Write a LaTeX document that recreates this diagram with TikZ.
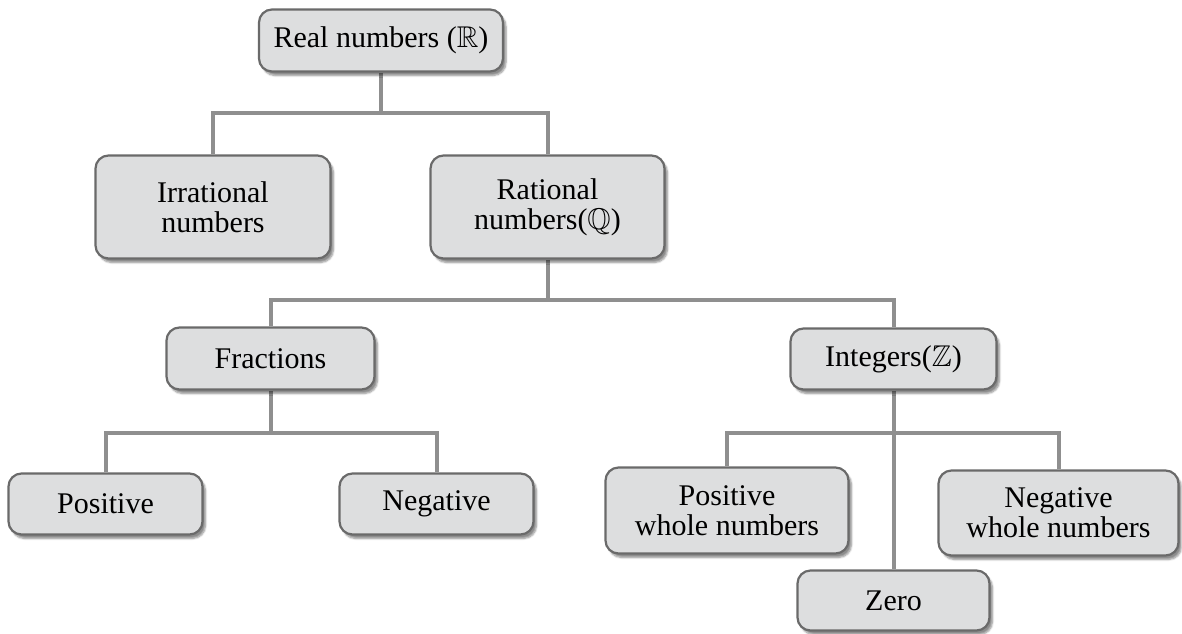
\documentclass[tikz,border=0pt]{standalone}
\usepackage{amssymb}
\usepackage{fontspec}
\setmainfont{Liberation Serif}
\usetikzlibrary{shadows.blur,backgrounds}
\definecolor{boxfill}{HTML}{DDDEDF}
\definecolor{boxdraw}{HTML}{6A6A6A}
\definecolor{linecol}{HTML}{8F8F8F}
\tikzset{
  box/.style={draw=boxdraw, line width=2.2pt, fill=boxfill, rounded corners=13pt,
    align=center, inner sep=0pt,
    font=\fontsize{30}{30}\selectfont,
    blur shadow={shadow xshift=3pt, shadow yshift=-4pt, shadow blur steps=6, shadow opacity=45}},
  conn/.style={draw=linecol, line width=4pt}
}
\begin{document}
\begin{tikzpicture}[x=1pt,y=-1pt]
\useasboundingbox (0,0) rectangle (1182,633);
\node[box, minimum width=244pt, minimum height=62pt] (real) at (381,40.5) {Real numbers ($\mathbb{R}$)};
\node[box, minimum width=235pt, minimum height=103pt] (irr) at (213,207) {Irrational\\numbers};
\node[box, minimum width=234pt, minimum height=103pt] (rat) at (547.5,207) {Rational\\numbers($\mathbb{Q}$)};
\node[box, minimum width=208pt, minimum height=62pt] (frac) at (270.5,358.5) {Fractions};
\node[box, minimum width=206pt, minimum height=61pt] (int) at (893.5,359) {Integers($\mathbb{Z}$)};
\node[box, minimum width=194pt, minimum height=61pt] (pos) at (105.5,504) {Positive};
\node[box, minimum width=194pt, minimum height=61pt] (neg) at (436.5,504) {Negative};
\node[box, minimum width=243pt, minimum height=86pt] (pwn) at (727,510.5) {Positive\\whole numbers};
\node[box, minimum width=240pt, minimum height=85pt] (nwn) at (1058.5,513) {Negative\\whole numbers};
\node[box, minimum width=192pt, minimum height=60pt] (zero) at (893.5,600.5) {Zero};
\coordinate (j1) at (381,113);
\coordinate (j2) at (547.5,300);
\coordinate (j3) at (270.5,433);
\coordinate (j4) at (893.5,433);
\begin{scope}[on background layer]
\draw[conn] (real.south) -- (j1);
\draw[conn] (irr.north) |- (j1) -| (rat.north);
\draw[conn] (rat.south) -- (j2);
\draw[conn] (frac.north) |- (j2) -| (int.north);
\draw[conn] (frac.south) -- (j3);
\draw[conn] (pos.north) |- (j3) -| (neg.north);
\draw[conn] (int.south) -- (zero.north);
\draw[conn] (pwn.north) |- (j4) -| (nwn.north);
\end{scope}
\end{tikzpicture}
\end{document}
